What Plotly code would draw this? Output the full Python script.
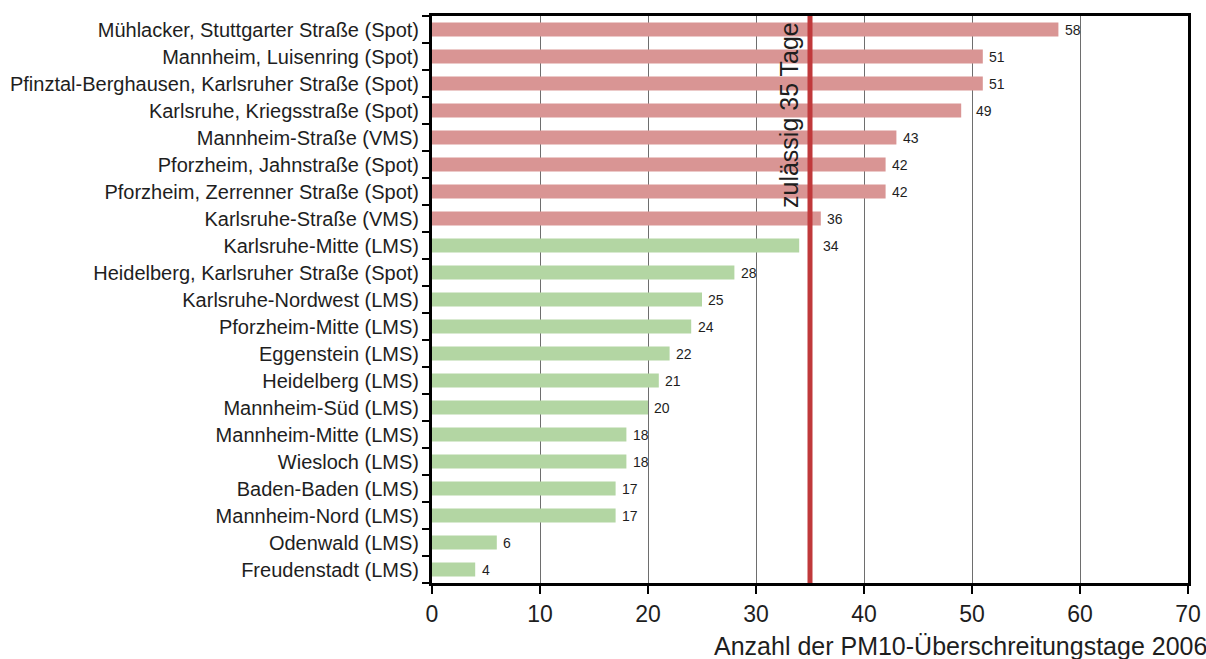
import plotly.graph_objects as go

stations = [
    "Mühlacker, Stuttgarter Straße (Spot)",
    "Mannheim, Luisenring (Spot)",
    "Pfinztal-Berghausen, Karlsruher Straße (Spot)",
    "Karlsruhe, Kriegsstraße (Spot)",
    "Mannheim-Straße (VMS)",
    "Pforzheim, Jahnstraße (Spot)",
    "Pforzheim, Zerrenner Straße (Spot)",
    "Karlsruhe-Straße (VMS)",
    "Karlsruhe-Mitte (LMS)",
    "Heidelberg, Karlsruher Straße (Spot)",
    "Karlsruhe-Nordwest (LMS)",
    "Pforzheim-Mitte (LMS)",
    "Eggenstein (LMS)",
    "Heidelberg (LMS)",
    "Mannheim-Süd (LMS)",
    "Mannheim-Mitte (LMS)",
    "Wiesloch (LMS)",
    "Baden-Baden (LMS)",
    "Mannheim-Nord (LMS)",
    "Odenwald (LMS)",
    "Freudenstadt (LMS)",
]
days = [58, 51, 51, 49, 43, 42, 42, 36, 34, 28, 25, 24, 22, 21, 20, 18, 18, 17, 17, 6, 4]
limit = 35
x_ticks = [0, 10, 20, 30, 40, 50, 60, 70]

RED = "#d99594"
GREEN = "#b3d6a3"
TEXT = "#1e1e1e"
FONT = "Liberation Sans, Arial"
colors = [RED if d > limit else GREEN for d in days]

fig = go.Figure()
fig.add_trace(go.Bar(
    x=days, y=stations, orientation="h",
    marker=dict(color=colors, line=dict(width=0)),
    width=0.52, hoverinfo="x+y",
))

# value labels right of each bar; nudged past any vertical line they would cross
lines = [v for v in x_ticks[1:-1]] + [limit]
for s, d in zip(stations, days):
    lx = d + 0.5
    for v in sorted(lines):
        if d < v < d + 2.0:
            lx = v + (1.1 if v == limit else 0.3)
    fig.add_annotation(x=lx, y=s, text=str(d), showarrow=False,
                       xanchor="left", yanchor="middle", xshift=-1,
                       font=dict(size=14, color=TEXT, family=FONT))

# permitted-days threshold
fig.add_shape(type="line", x0=limit, x1=limit, y0=0, y1=1, yref="paper",
              line=dict(color="#c0393b", width=5), layer="above")
fig.add_annotation(x=limit, y=1, yref="paper", text="zulässig 35 Tage",
                   textangle=-90, showarrow=False, xanchor="right", yanchor="top",
                   xshift=-5, yshift=-4,
                   font=dict(size=25, color=TEXT, family=FONT))

fig.add_annotation(x=1, y=0, xref="paper", yref="paper",
                   text="Anzahl der PM10-Überschreitungstage 2006",
                   showarrow=False, xanchor="right", yanchor="top", yshift=-47, xshift=21,
                   font=dict(size=25, color=TEXT, family=FONT))

fig.update_layout(
    width=1206, height=659,
    margin=dict(l=432, r=18, t=16, b=76),
    paper_bgcolor="white", plot_bgcolor="white",
    showlegend=False,
    font=dict(family=FONT, color=TEXT),
)
fig.update_xaxes(
    range=[0, 70], tickvals=x_ticks, ticks="outside", ticklen=8, tickwidth=2,
    tickcolor="black", showline=True, linecolor="black", linewidth=3, mirror=True,
    showgrid=True, gridcolor="#6e6e6e", gridwidth=1, automargin=False,
    tickfont=dict(size=23, color=TEXT), zeroline=False,
)
fig.update_yaxes(
    categoryorder="array", categoryarray=stations[::-1],
    ticks="outside", tickson="boundaries", ticklen=7, tickwidth=2, tickcolor="black",
    showline=True, linecolor="black", linewidth=3, mirror=True, showgrid=False,
    automargin=False,
    tickfont=dict(size=20, color=TEXT), ticklabelstandoff=6,
)

fig.write_html("out.html")
